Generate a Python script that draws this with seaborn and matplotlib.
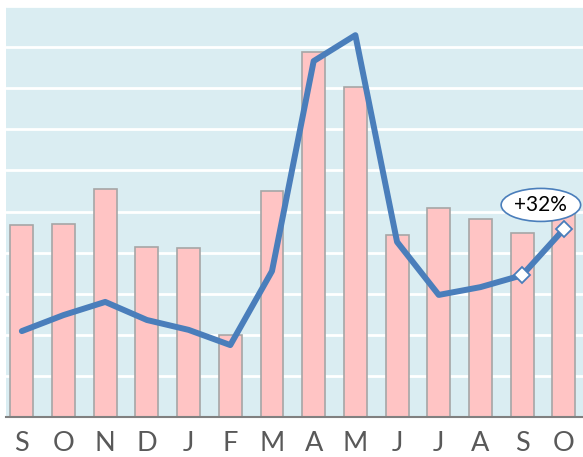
import pandas as pd
import matplotlib
matplotlib.use("Agg")
import matplotlib.pyplot as plt
import seaborn as sns

# month initials, Sep -> Oct of the following year
months = ["S", "O", "N", "D", "J", "F", "M", "A", "M", "J", "J", "A", "S", "O"]
barVals = [4.67, 4.70, 5.55, 4.14, 4.11, 2.00, 5.50, 8.88, 8.03, 4.43, 5.09, 4.82, 4.48, 4.96]
lineVals = [2.09, 2.48, 2.80, 2.36, 2.12, 1.75, 3.55, 8.66, 9.29, 4.26, 2.97, 3.16, 3.45, 4.57]
changeLabel = "+32%"

df = pd.DataFrame({"pos": range(len(months)), "month": months,
                   "bar": barVals, "line": lineVals})

sns.set_style("white")
plt.rcParams["font.family"] = ["Lato", "DejaVu Sans"]

fig = plt.figure(figsize=(5.83, 4.57), dpi=100)
ax = fig.add_axes([6 / 583, 40 / 457, 577 / 583, 411 / 457])
ax.set_facecolor("#daedf2")

sns.barplot(data=df, x="pos", y="bar", color="#ffc4c4", width=0.55,
            edgecolor="#a6a6a6", linewidth=1.2, saturation=1, ax=ax, zorder=2)
sns.lineplot(data=df, x="pos", y="line", color="#4a7ebb", linewidth=4.3,
             ax=ax, zorder=3)

# highlight last two points
last = df.tail(2)
ax.plot(last["pos"], last["line"], linestyle="none", marker="D", markersize=8,
        markerfacecolor="white", markeredgecolor="#4a7ebb", markeredgewidth=1.3,
        zorder=4)

ax.annotate(changeLabel, xy=(12.45, 5.16), ha="center", va="center",
            fontsize=15, color="black", zorder=5,
            bbox=dict(boxstyle="ellipse,pad=0.08", fc="white", ec="#4a7ebb", lw=1.2))

ax.set_ylim(0, 10)
ax.set_xlim(-0.38, 13.46)
ax.set_yticks(range(0, 11))
ax.yaxis.grid(True, color="white", linewidth=2)
ax.set_axisbelow(True)
ax.set_yticklabels([])
ax.tick_params(axis="y", length=0)
ax.set_xticks(df["pos"])
ax.set_xticklabels(months, fontsize=19.5, color="#595959")
ax.tick_params(axis="x", length=0, pad=10)
ax.set_xlabel("")
ax.set_ylabel("")
for side in ["top", "left", "right"]:
    ax.spines[side].set_visible(False)
ax.spines["bottom"].set_color("#808080")
ax.spines["bottom"].set_linewidth(1.5)

fig.savefig("out.png", dpi=100)
